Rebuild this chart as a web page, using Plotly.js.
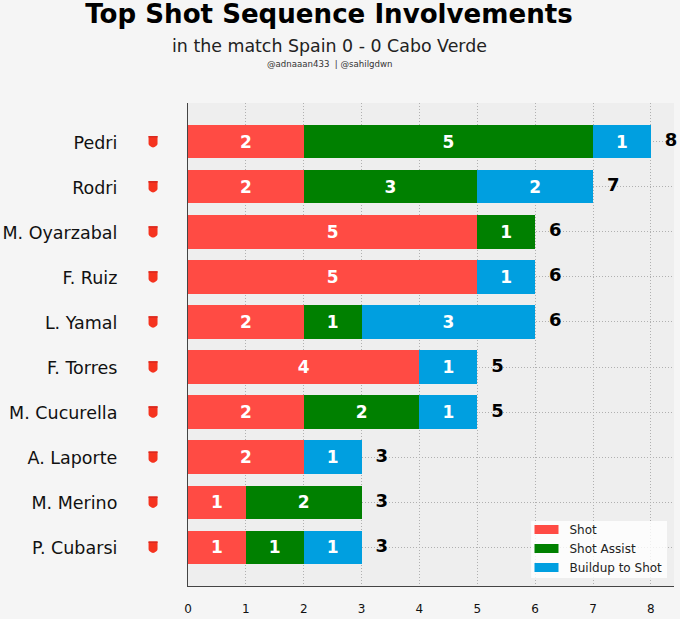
<!DOCTYPE html>
<html><head><meta charset="utf-8">
<script src="https://cdn.plot.ly/plotly-3.0.1.min.js"></script>
<style>html,body{margin:0;padding:0;background:#f5f5f5}</style></head>
<body><div id="chart" style="width:680px;height:619px"></div>
<script>
const players = ["Pedri","Rodri","M. Oyarzabal","F. Ruiz","L. Yamal","F. Torres","M. Cucurella","A. Laporte","M. Merino","P. Cubarsi"];
const shot = [2,2,5,5,2,4,2,2,1,1];
const assist = [5,3,1,null,1,null,2,null,2,1];
const buildup = [1,2,null,1,3,1,1,1,null,1];
const totals = [8,7,6,6,6,5,5,3,3,3];
const xTicks = [0,1,2,3,4,5,6,7,8];
const seriesNames = ["Shot","Shot Assist","Buildup to Shot"];
const seriesColors = ["#ff4b44","#008000","#009fe0"];
const font = "DejaVu Sans, sans-serif";
const labelOffset = 0.35;

const M = {l:187.5, r:6, t:103, b:33};
const plotW = 680-M.l-M.r, plotH = 619-M.t-M.b;
const px = x => (x-M.l)/plotW;
const py = y => (619-M.b-y)/plotH;

const shield = "data:image/svg+xml;utf8," + encodeURIComponent(
  '<svg xmlns="http://www.w3.org/2000/svg" width="20" height="24" viewBox="0 0 20 24">' +
  '<path d="M1 1H19V15C19 20 14 22 10 23C6 22 1 20 1 15Z" fill="#f5331f"/>' +
  '<path d="M1 1H19V4H1Z" fill="#d92a20"/></svg>');

function bar(i, vals){
  return {type:"bar", orientation:"h", name:seriesNames[i], y:players, x:vals, legendgroup:seriesNames[i],
    showlegend:false,
    marker:{color:seriesColors[i], line:{width:0}}, texttemplate:"%{x}", textposition:"inside",
    insidetextanchor:"middle", textangle:0, constraintext:"none",
    insidetextfont:{family:font,size:17,color:"#ffffff",weight:"bold"},
    hoverinfo:"x+y"};
}
function legendKey(i){
  return {type:"scatter", mode:"lines", name:seriesNames[i], legendgroup:seriesNames[i],
    x:[null], y:[null], line:{color:seriesColors[i], width:9, dash:"24px,100px"}, hoverinfo:"skip"};
}
const traces = [
  bar(0, shot), bar(1, assist), bar(2, buildup),
  legendKey(0), legendKey(1), legendKey(2),
  {type:"scatter", mode:"text", y:players, x:totals.map(t=>t+labelOffset), text:totals.map(String),
   textposition:"middle center", textfont:{family:font,size:18,color:"#000",weight:"bold"},
   cliponaxis:false, showlegend:false, hoverinfo:"skip"}
];
const cx = px(329);
const bx0=px(531), bx1=px(667), by0=py(578), by1=py(521);
const layout = {
  width:680, height:619, barmode:"stack", bargap:0.26,
  paper_bgcolor:"#f5f5f5", plot_bgcolor:"#eeeeee",
  margin:{l:M.l,r:M.r,t:M.t,b:M.b,pad:0},
  font:{family:font,color:"#111"},
  title:{text:"<b>Top Shot Sequence Involvements</b>", font:{family:font,size:26.1,color:"#000"},
    x:329/680, xref:"container", xanchor:"center", y:1-13.5/619, yref:"container", yanchor:"middle"},
  annotations:[
    {text:"in the match Spain 0 - 0 Cabo Verde", xref:"paper", yref:"paper", x:cx, y:py(46),
     yanchor:"middle", xanchor:"center", showarrow:false, font:{family:font,size:17.4,color:"#222"}},
    {text:"@adnaaan433  | @sahilgdwn", xref:"paper", yref:"paper", x:cx, y:py(64),
     yanchor:"middle", xanchor:"center", showarrow:false, font:{family:font,size:8.6,color:"#333"}}
  ],
  images: players.map(p=>({source:shield, xref:"paper", yref:"y", x:px(152.5), y:p,
     sizex:10/plotW, sizey:12.5/45.1, sizing:"stretch", xanchor:"center", yanchor:"middle", layer:"above"})),
  shapes:[{type:"rect", xref:"paper", yref:"paper", x0:bx0, x1:bx1, y0:by0, y1:by1,
     fillcolor:"rgba(255,255,255,0.8)", line:{width:0}, layer:"above"}],
  xaxis:{range:[0,8.4], tickvals:xTicks, ticktext:xTicks.map(String), ticklen:0, ticklabelstandoff:11,
    tickfont:{family:font,size:12,color:"#111"},
    showgrid:true, gridcolor:"#b0b0b0", griddash:"1px,2px", gridwidth:1,
    showline:true, linecolor:"#444", linewidth:1.2, zeroline:false, layer:"below traces"},
  yaxis:{range:[9.86,-0.86], type:"category", categoryorder:"array", categoryarray:players,
    ticklen:0, ticklabelstandoff:66, ticklabelshift:-1, tickfont:{family:font,size:17.5,color:"#111"},
    showgrid:true, gridcolor:"#b0b0b0", griddash:"1px,2px", gridwidth:1,
    showline:true, linecolor:"#444", linewidth:1.2, zeroline:false},
  legend:{x:px(667.5), xanchor:"right", y:py(582), yanchor:"bottom", bgcolor:"rgba(0,0,0,0)",
    font:{family:font,size:12,color:"#222"}, traceorder:"normal", itemwidth:30, borderwidth:0}
};
Plotly.newPlot("chart", traces, layout, {displayModeBar:false, responsive:false});
</script></body></html>
